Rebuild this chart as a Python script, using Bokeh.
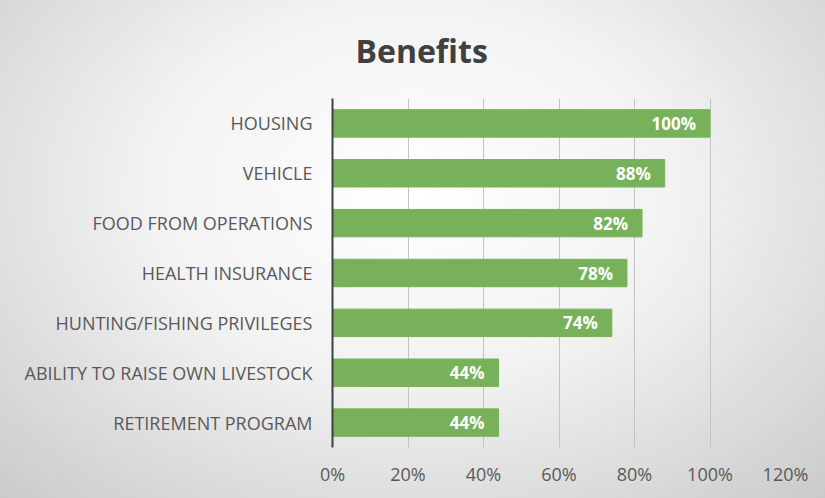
from bokeh.plotting import figure
from bokeh.models import FactorRange, Range1d, NumeralTickFormatter, FixedTicker, ColumnDataSource, Title
from bokeh.embed import file_html
from bokeh.resources import INLINE
from bokeh.core.properties import value

categories = [
    "HOUSING",
    "VEHICLE",
    "FOOD FROM OPERATIONS",
    "HEALTH INSURANCE",
    "HUNTING/FISHING PRIVILEGES",
    "ABILITY TO RAISE OWN LIVESTOCK",
    "RETIREMENT PROGRAM",
]
values = [1.00, 0.88, 0.82, 0.78, 0.74, 0.44, 0.44]
labels = ["100%", "88%", "82%", "78%", "74%", "44%", "44%"]
x_ticks = [0, 0.2, 0.4, 0.6, 0.8, 1.0, 1.2]
title_text = "Benefits"

FONT = "Open Sans"

src = ColumnDataSource(dict(cat=categories, val=values, lab=labels))

p = figure(
    width=825, height=498,
    y_range=FactorRange(factors=categories[::-1]),
    x_range=Range1d(0, 1.2),
    output_backend="svg", toolbar_location=None,
    min_border_left=332, min_border_right=40, min_border_top=98, min_border_bottom=51,
)
p.styles = {"background": "radial-gradient(ellipse 72% 85% at 50% 38%, #ffffff 0%, #f2f2f2 45%, #cbcbcb 100%)"}
p.background_fill_color = None
p.border_fill_color = None
p.outline_line_color = None

p.hbar(y="cat", right="val", left=0, height=0.55, source=src, color="#77b25a")
p.text(x="val", y="cat", text="lab", source=src, text_align="right", text_baseline="middle",
       x_offset=-14, text_color="white", text_font=value(FONT), text_font_style="bold",
       text_font_size="17px")

p.title = Title(text=title_text, align="left", offset=23, text_font=FONT, text_font_size="32px",
                text_font_style="bold", text_color="#404040", standoff=53)

p.xaxis.ticker = FixedTicker(ticks=x_ticks)
p.xaxis.formatter = NumeralTickFormatter(format="0%")
p.xaxis.axis_line_color = None
p.xaxis.major_tick_line_color = None
p.xaxis.minor_tick_line_color = None
p.xaxis.major_label_text_font = FONT
p.xaxis.major_label_text_font_size = "18px"
p.xaxis.major_label_text_color = "#595959"
p.xaxis.major_label_standoff = 8

p.yaxis.axis_line_color = "#404040"
p.yaxis.axis_line_width = 2
p.yaxis.major_tick_line_color = None
p.yaxis.minor_tick_line_color = None
p.yaxis.major_label_text_font = FONT
p.yaxis.major_label_text_font_size = "18px"
p.yaxis.major_label_text_color = "#595959"
p.yaxis.major_label_standoff = 14

p.ygrid.grid_line_color = None
p.xgrid.grid_line_color = "#c4c4c4"
p.xgrid.ticker = FixedTicker(ticks=x_ticks)

open("out.html", "w").write(file_html(p, INLINE))
